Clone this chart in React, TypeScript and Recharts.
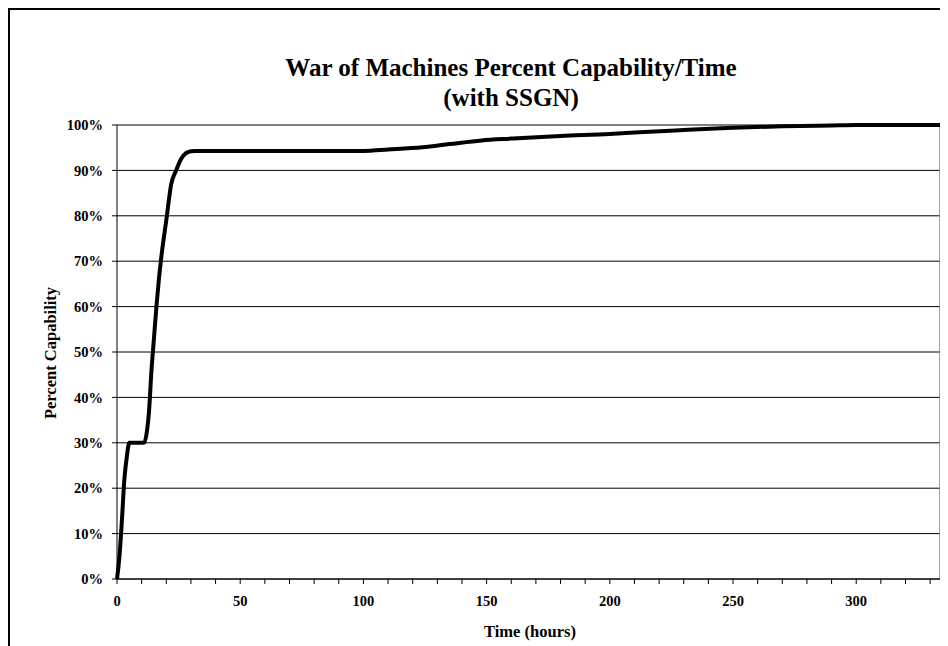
import { LineChart, Line, XAxis, YAxis, CartesianGrid, ReferenceLine } from 'recharts';

// hours since start
const hours = [
  0, 1, 2, 3, 4, 5, 11, 12, 13, 14, 15, 16, 17, 18, 20, 22, 24, 26, 28, 30, 32,
  100, 110, 124, 135, 148, 160, 180, 200, 212, 230, 250, 270, 290, 300, 334,
];
// percent capability at each hour
const capability = [
  0, 5, 13, 22, 27, 30, 30, 32, 37, 46, 53, 60, 66, 71, 79, 87, 90, 92.5, 93.8, 94.2, 94.3,
  94.3, 94.6, 95.1, 95.8, 96.6, 97.0, 97.6, 98.0, 98.4, 98.9, 99.4, 99.7, 99.9, 100, 100,
];

const xTicks = [0, 10, 20, 30, 40, 50, 60, 70, 80, 90, 100, 110, 120, 130, 140, 150, 160, 170, 180, 190, 200, 210, 220, 230, 240, 250, 260, 270, 280, 290, 300, 310, 320, 330];
const xLabels = [0, 50, 100, 150, 200, 250, 300];
const yTicks = [0, 10, 20, 30, 40, 50, 60, 70, 80, 90, 100];

const data = hours.map((h, i) => ({ hour: h, pct: capability[i] }));

const serif = '"Liberation Serif", "Times New Roman", serif';
const tickStyle = { fontFamily: serif, fontSize: 14.5, fontWeight: 700, fill: '#000' };

export default function App() {
  return (
    <div
      style={{
        position: 'relative',
        width: 940,
        height: 638,
        boxSizing: 'border-box',
        borderLeft: '2px solid #000',
        borderTop: '2px solid #000',
        fontFamily: serif,
        overflow: 'hidden',
      }}
    >
      <div
        style={{
          position: 'absolute',
          left: 0,
          width: 1002,
          top: 43,
          textAlign: 'center',
          fontWeight: 700,
          fontSize: 25,
          lineHeight: '30px',
        }}
      >
        War of Machines Percent Capability/Time
        <br />
        (with SSGN)
      </div>
      <div
        style={{
          position: 'absolute',
          left: 0,
          width: 1040,
          top: 612,
          lineHeight: '20px',
          textAlign: 'center',
          fontWeight: 700,
          fontSize: 16.5,
        }}
      >
        Time (hours)
      </div>
      <div
        style={{
          position: 'absolute',
          left: 41 - 100,
          top: 343 - 10,
          width: 200,
          height: 20,
          lineHeight: '20px',
          textAlign: 'center',
          fontWeight: 700,
          fontSize: 16.5,
          transform: 'rotate(-90deg)',
        }}
      >
        Percent Capability
      </div>
      <LineChart
        width={938}
        height={636}
        data={data}
        margin={{ top: 115, right: 8, bottom: 37, left: 47 }}
        style={{ position: 'absolute', left: 0, top: 0 }}
      >
        <CartesianGrid horizontal vertical={false} stroke="#000" strokeWidth={1} />
        <ReferenceLine y={100} stroke="#808080" strokeWidth={1.5} />
        <ReferenceLine x={334} stroke="#808080" strokeWidth={1.5} />
        <XAxis
          dataKey="hour"
          type="number"
          domain={[0, 334]}
          ticks={xTicks}
          interval={0}
          tickFormatter={(v: number) => (xLabels.includes(v) ? String(v) : '')}
          tick={tickStyle}
          tickSize={5}
          tickMargin={12}
          height={30}
          axisLine={{ stroke: '#000' }}
          tickLine={{ stroke: '#000' }}
        />
        <YAxis
          type="number"
          domain={[0, 100]}
          ticks={yTicks}
          interval={0}
          tickFormatter={(v: number) => `${v}%`}
          tick={tickStyle}
          tickSize={5}
          tickMargin={9}
          width={60}
          axisLine={{ stroke: '#000' }}
          tickLine={{ stroke: '#000' }}
        />
        <Line
          dataKey="pct"
          type="monotone"
          stroke="#000"
          strokeWidth={4}
          dot={false}
          isAnimationActive={false}
        />
      </LineChart>
    </div>
  );
}
